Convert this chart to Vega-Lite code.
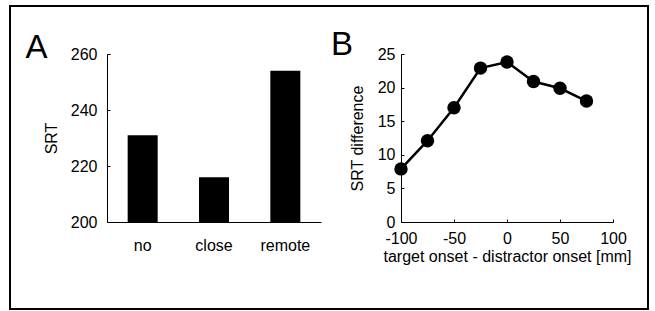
{
  "$schema": "https://vega.github.io/schema/vega-lite/v6.json",
  "width": 638,
  "height": 303,
  "autosize": {"type": "none"},
  "padding": {"left": 10, "top": 6, "right": 7, "bottom": 2},
  "background": "white",
  "config": {
    "view": {"stroke": "black", "strokeWidth": 2},
    "font": "Liberation Sans",
    "axis": {
      "grid": false,
      "domainColor": "black",
      "domainWidth": 1,
      "tickColor": "black",
      "labelColor": "black",
      "labelFont": "Liberation Sans",
      "labelFontSize": 16,
      "labelFlush": false,
      "labelOverlap": false,
      "titleFont": "Liberation Sans",
      "titleFontSize": 16,
      "titleFontWeight": "normal",
      "titleColor": "black"
    }
  },
  "resolve": {
    "scale": {"x": "independent", "y": "independent"},
    "axis": {"x": "independent", "y": "independent"}
  },
  "layer": [
    {
      "data": {
        "values": [
          {"condition": "no", "SRT": 231},
          {"condition": "close", "SRT": 216},
          {"condition": "remote", "SRT": 254}
        ]
      },
      "mark": {"type": "bar", "color": "black", "size": 30},
      "encoding": {
        "x": {
          "field": "condition",
          "type": "nominal",
          "sort": ["no", "close", "remote"],
          "scale": {"range": [97, 311], "paddingInner": 0, "paddingOuter": 0},
          "axis": {
            "orient": "bottom",
            "offset": -87,
            "ticks": false,
            "labelAngle": 0,
            "labelPadding": 15,
            "title": "A",
            "titleFontSize": 33,
            "titleAlign": "left",
            "titleBaseline": "alphabetic",
            "titleX": 15,
            "titleY": -165,
            "titleAngle": 0
          }
        },
        "y": {
          "field": "SRT",
          "type": "quantitative",
          "scale": {"domain": [200, 260], "range": [216, 48]},
          "axis": {
            "orient": "left",
            "offset": -97,
            "values": [200, 220, 240, 260],
            "tickSize": -3,
            "labelPadding": 13,
            "title": "SRT",
            "titlePadding": 11
          }
        },
        "y2": {"datum": 200}
      }
    },
    {
      "data": {
        "values": [
          {"offset": -100, "diff": 7.9},
          {"offset": -75, "diff": 12.1},
          {"offset": -50, "diff": 17.0},
          {"offset": -25, "diff": 22.9},
          {"offset": 0, "diff": 23.8},
          {"offset": 25, "diff": 20.9},
          {"offset": 50, "diff": 19.9},
          {"offset": 75, "diff": 18.0}
        ]
      },
      "encoding": {
        "x": {
          "field": "offset",
          "type": "quantitative",
          "scale": {"domain": [-100, 100], "range": [391, 603], "nice": false, "zero": false},
          "axis": {
            "orient": "bottom",
            "offset": -87,
            "values": [-100, -50, 0, 50, 100],
            "tickSize": -3,
            "labelPadding": 11,
            "labelExpr": "replace(datum.label, '\u2212', '-')",
            "title": "target onset - distractor onset [mm]",
            "titlePadding": 2
          }
        },
        "y": {
          "field": "diff",
          "type": "quantitative",
          "scale": {"domain": [0, 25], "range": [216, 48], "nice": false},
          "axis": {
            "orient": "left",
            "offset": -391,
            "values": [0, 5, 10, 15, 20, 25],
            "tickSize": -3,
            "labelPadding": 9,
            "title": "SRT difference",
            "titlePadding": 12
          }
        }
      },
      "layer": [
        {"mark": {"type": "line", "color": "black", "strokeWidth": 2.5}},
        {"mark": {"type": "point", "filled": true, "color": "black", "opacity": 1, "size": 180}},
        {
          "transform": [{"filter": "datum.offset == -100"}],
          "mark": {"type": "text", "text": "B", "fontSize": 33, "font": "Liberation Sans", "color": "black", "align": "left", "baseline": "alphabetic"},
          "encoding": {
            "x": {"datum": -166},
            "y": {"datum": 24.9}
          }
        }
      ]
    }
  ]
}
